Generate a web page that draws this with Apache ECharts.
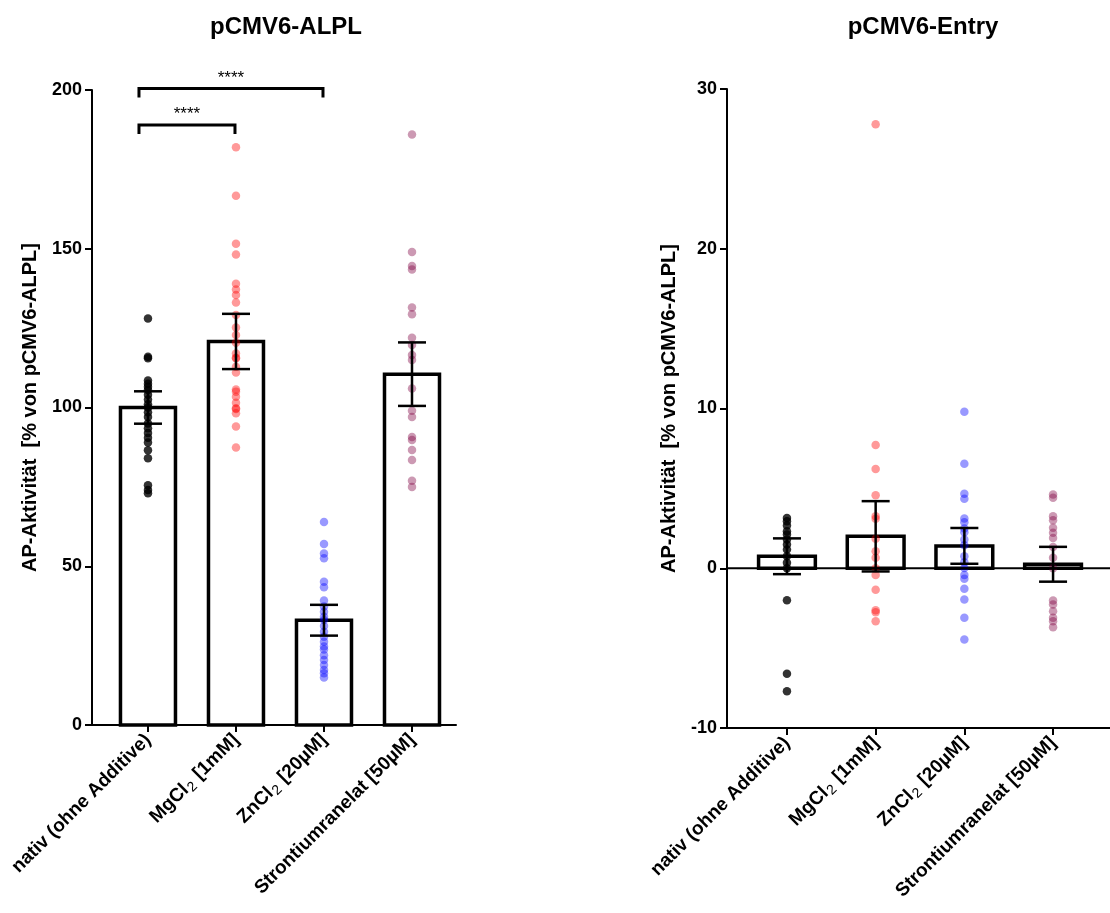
<!DOCTYPE html>
<html>
<head>
<meta charset="utf-8">
<script src="https://cdn.jsdelivr.net/npm/echarts@6/dist/echarts.min.js"></script>
<style>html,body{margin:0;padding:0;background:#fff}#c{width:1110px;height:913px}</style>
</head>
<body>
<div id="c"></div>
<script>
// ---------- data ----------
const categories = ['nativ (ohne Additive)', 'MgCl2 [1mM]', 'ZnCl2 [20µM]', 'Strontiumranelat [50µM]'];
const panelTitles = ['pCMV6-ALPL', 'pCMV6-Entry'];
const yAxisTitle = 'AP-Aktivität  [% von pCMV6-ALPL]';

// pCMV6-ALPL panel (individual values)
const alplNativ = [128, 115.5, 116, 108.5, 107.5, 106.5, 105.5, 104, 102.5, 101, 100, 98.5, 97, 95, 93.5, 92, 90.5, 89, 86.5, 84, 75.5, 74, 73];
const alplMg = [182, 166.7, 151.6, 148.2, 139, 137.2, 135.4, 133.1, 129.1, 125.2, 122.8, 120.4, 117, 115.7, 115.5, 112.8, 111, 105.7, 105, 103.4, 101.5, 99.5, 99.8, 98.2, 94, 87.4];
const alplZn = [63.9, 57, 54, 52.5, 45.1, 43.4, 39.2, 37.3, 35.7, 34.1, 33.1, 31.2, 29.4, 27.8, 26.2, 24.7, 23.8, 22, 20.5, 18.9, 17.3, 16.3, 15];
const alplSr = [186, 149, 144.6, 143.5, 131.5, 129.4, 122, 119.7, 116.5, 115, 106, 99, 97, 90.7, 89.8, 86.6, 83.5, 76.9, 75];
const alplMean = [100, 120.8, 33, 110.5];
const alplSem = [5.1, 8.7, 4.85, 10];
// significance brackets: [from category, to category, height, label]
const alplBrackets = [[0, 1, 189, '****'], [0, 2, 200.5, '****']];

// pCMV6-Entry panel (individual values)
const entryNativ = [3.15, 2.94, 2.67, 2.32, 2.11, 1.8, 1.48, 1.17, 0.75, 0.34, 0, -2.0, -6.6, -7.7];
const entryMg = [27.8, 7.72, 6.22, 4.57, 3.26, 3.1, 1.84, 1.06, 0.65, 0, -0.42, -1.34, -2.63, -2.75, -3.32];
const entryZn = [9.8, 6.54, 4.66, 4.35, 3.11, 2.88, 2.49, 2.26, 1.8, 1.44, 0.75, 0.38, 0.02, -0.42, -0.66, -1.29, -1.96, -3.1, -4.46];
const entrySr = [4.61, 4.41, 3.26, 3.01, 2.53, 2.22, 1.9, 1.33, 0.65, 0, -2.02, -2.27, -2.69, -3.1, -3.32, -3.7];
const entryMean = [0.75, 2.0, 1.4, 0.25];
const entrySem = [1.12, 2.2, 1.12, 1.09];

const yTicksAlpl = {min: 0, max: 200, interval: 50};
const yTicksEntry = {min: -10, max: 30, interval: 10};

// ---------- styling ----------
const FONT = "'Liberation Sans', Arial, sans-serif";
const pointColors = ['rgba(0,0,0,1)', 'rgba(255,0,0,0.5)', 'rgba(0,0,255,0.5)', 'rgba(128,0,64,0.5)'];

function catLabel(v) {
  const i = Math.round(v);
  const map = [
    categories[0],
    'MgCl{sub|2} [1mM]',
    'ZnCl{sub|2} [20µM]',
    categories[3]
  ];
  return map[i] !== undefined ? map[i] : '';
}

function xAxisDef(gridIndex, min, max) {
  return {
    type: 'value', gridIndex, min, max,
    splitLine: {show: false},
    axisLine: {show: true, onZero: false, lineStyle: {color: '#000', width: 2}},
    axisTick: {show: true, customValues: [0, 1, 2, 3], length: 7, lineStyle: {color: '#000', width: 2}},
    axisLabel: {
      show: true, customValues: [0, 1, 2, 3], rotate: 45, margin: 12,
      formatter: catLabel,
      color: '#000', fontFamily: FONT, fontWeight: 'bold', fontSize: 19,
      rich: {
        sub: {fontFamily: FONT, fontSize: 14, fontWeight: 'normal', color: '#000', padding: [9, 1, 0, 1]}
      }
    }
  };
}

function yAxisDef(gridIndex, t, gap) {
  return {
    type: 'value', gridIndex, min: t.min, max: t.max, interval: t.interval,
    name: yAxisTitle, nameLocation: 'middle', nameGap: gap, nameRotate: 90,
    nameTextStyle: {fontFamily: FONT, fontWeight: 'bold', fontSize: 20, color: '#000'},
    splitLine: {show: false},
    axisLine: {show: true, onZero: false, lineStyle: {color: '#000', width: 2}},
    axisTick: {show: true, length: 7, lineStyle: {color: '#000', width: 2}},
    axisLabel: {color: '#000', fontFamily: FONT, fontWeight: 'bold', fontSize: 18, margin: 10}
  };
}

function barSeries(idx, means, halfW) {
  return {
    type: 'custom', xAxisIndex: idx, yAxisIndex: idx, z: 1,
    data: means.map((m, i) => [i, m]),
    renderItem: function (params, api) {
      const x = api.value(0), m = api.value(1);
      const a = api.coord([x - halfW, m]);
      const b = api.coord([x + halfW, 0]);
      return {
        type: 'rect',
        shape: {x: a[0], y: Math.min(a[1], b[1]), width: b[0] - a[0], height: Math.abs(b[1] - a[1])},
        style: {fill: '#fff', stroke: '#000', lineWidth: 3.5}
      };
    }
  };
}

function errSeries(idx, means, sems) {
  return {
    type: 'custom', xAxisIndex: idx, yAxisIndex: idx, z: 5,
    data: means.map((m, i) => [i, m, sems[i]]),
    renderItem: function (params, api) {
      const x = api.value(0), m = api.value(1), s = api.value(2);
      const top = api.coord([x, m + s]);
      const bot = api.coord([x, m - s]);
      const cap = 14;
      const st = {stroke: '#000', lineWidth: 2.5, fill: null};
      return {
        type: 'group',
        children: [
          {type: 'line', shape: {x1: top[0], y1: top[1], x2: bot[0], y2: bot[1]}, style: st},
          {type: 'line', shape: {x1: top[0] - cap, y1: top[1], x2: top[0] + cap, y2: top[1]}, style: st},
          {type: 'line', shape: {x1: bot[0] - cap, y1: bot[1], x2: bot[0] + cap, y2: bot[1]}, style: st}
        ]
      };
    }
  };
}

function pointSeries(idx, values, cat) {
  return {
    type: 'scatter', xAxisIndex: idx, yAxisIndex: idx, z: 3,
    symbol: 'circle', symbolSize: 8.5,
    itemStyle: {color: pointColors[cat]},
    emphasis: {disabled: true},
    data: values.map(v => [cat, v])
  };
}

const bracketSeries = {
  type: 'custom', xAxisIndex: 0, yAxisIndex: 0, z: 6, clip: false,
  data: alplBrackets.map(b => [b[0], b[1], b[2]]),
  renderItem: function (params, api) {
    const i = params.dataIndex;
    const p1 = api.coord([api.value(0), api.value(2)]);
    const p2 = api.coord([api.value(1), api.value(2)]);
    const x1 = p1[0] - 9, x2 = p2[0] - 1, y = p1[1], drop = 9;
    return {
      type: 'group',
      children: [
        {type: 'polyline', shape: {points: [[x1, y + drop], [x1, y], [x2, y], [x2, y + drop]]},
          style: {stroke: '#000', lineWidth: 3, fill: null}},
        {type: 'text', x: (x1 + x2) / 2, y: y - 2,
          style: {text: alplBrackets[i][3], textAlign: 'center', textVerticalAlign: 'bottom',
            font: 'normal 17px ' + FONT, fill: '#000'}}
      ]
    };
  }
};

const zeroLine = {
  type: 'custom', xAxisIndex: 1, yAxisIndex: 1, z: 4, clip: false,
  data: [[0]],
  renderItem: function (params, api) {
    const a = api.coord([0, 0]);
    const L = params.coordSys;
    return {type: 'line', shape: {x1: L.x, y1: a[1], x2: L.x + L.width, y2: a[1]},
      style: {stroke: '#000', lineWidth: 2}};
  }
};

const chart = echarts.init(document.getElementById('c'), null, {renderer: 'canvas'});
chart.setOption({
  animation: false,
  backgroundColor: '#fff',
  title: [
    {text: panelTitles[0], left: 281, top: 10, textAlign: 'center',
      textStyle: {fontFamily: FONT, fontWeight: 'bold', fontSize: 24, color: '#000'}},
    {text: panelTitles[1], left: 918, top: 10, textAlign: 'center',
      textStyle: {fontFamily: FONT, fontWeight: 'bold', fontSize: 24, color: '#000'}}
  ],
  grid: [
    {left: 92, top: 90, width: 364, height: 635},
    {left: 727, top: 89, width: 383, height: 639}
  ],
  xAxis: [xAxisDef(0, -0.636, 3.5), xAxisDef(1, -0.676, 3.642)],
  yAxis: [yAxisDef(0, yTicksAlpl, 52), yAxisDef(1, yTicksEntry, 48)],
  series: [
    barSeries(0, alplMean, 0.3125),
    pointSeries(0, alplNativ, 0),
    pointSeries(0, alplMg, 1),
    pointSeries(0, alplZn, 2),
    pointSeries(0, alplSr, 3),
    errSeries(0, alplMean, alplSem),
    bracketSeries,
    barSeries(1, entryMean, 0.32),
    zeroLine,
    pointSeries(1, entryNativ, 0),
    pointSeries(1, entryMg, 1),
    pointSeries(1, entryZn, 2),
    pointSeries(1, entrySr, 3),
    errSeries(1, entryMean, entrySem)
  ]
});
</script>
</body>
</html>
